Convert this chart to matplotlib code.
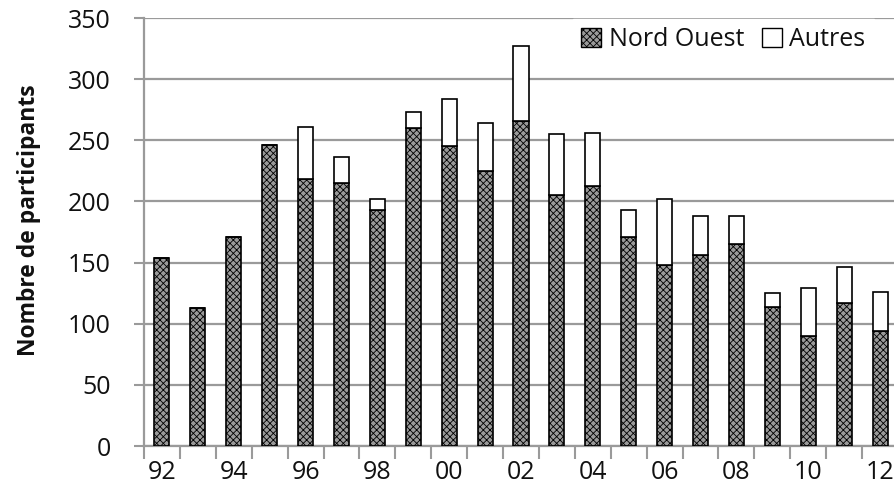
import matplotlib
matplotlib.use("Agg")
import matplotlib.pyplot as plt
import numpy as np
from matplotlib.patches import Patch

years = ["92", "93", "94", "95", "96", "97", "98", "99", "00", "01", "02",
         "03", "04", "05", "06", "07", "08", "09", "10", "11", "12"]
nord_ouest = [154, 113, 171, 246, 218, 215, 193, 260, 245, 225, 266,
              205, 213, 171, 148, 156, 165, 114, 90, 117, 94]
totals = [154, 113, 171, 246, 261, 236, 202, 273, 284, 264, 327,
          255, 256, 193, 202, 188, 188, 125, 129, 146, 126]
autres = [t - n for t, n in zip(totals, nord_ouest)]

plt.rcParams['font.family'] = ['Open Sans', 'DejaVu Sans']
plt.rcParams['hatch.linewidth'] = 0.6
plt.rcParams['hatch.color'] = '#2a2a2a'

fig = plt.figure(figsize=(8.95, 4.98), dpi=100)
ax = fig.add_axes([144/895, 52/498, 754/895, 428/498])

x = np.arange(len(years))
w = 0.42
ax.bar(x, nord_ouest, width=w, facecolor='#9a9a9a', edgecolor='black',
       linewidth=1.2, hatch='xxxxx', zorder=3)
ax.bar(x, autres, width=w, bottom=nord_ouest, facecolor='white',
       edgecolor='black', linewidth=1.2, zorder=3)

ax.set_xlim(-0.5, len(years) - 0.5)
ax.set_ylim(0, 350)
ax.set_yticks(np.arange(0, 351, 50))
ax.yaxis.grid(True, color='#9a9a9a', linewidth=1.6, zorder=0)
ax.set_axisbelow(True)

ax.set_xticks(x[::2])
ax.set_xticklabels(years[::2])
ax.set_xticks(np.arange(-0.5, len(years), 1), minor=True)
ax.tick_params(axis='x', which='major', length=0, labelsize=18, pad=10, labelcolor='#111111')
ax.tick_params(axis='x', which='minor', length=9, width=1.5, color='#9a9a9a', direction='out')
ax.tick_params(axis='y', length=7, width=1.5, color='#9a9a9a', labelsize=18, pad=17, labelcolor='#111111')

for s in ['top', 'right']:
    ax.spines[s].set_visible(False)
for s in ['left', 'bottom']:
    ax.spines[s].set_color('#9a9a9a')
    ax.spines[s].set_linewidth(1.6)

ax.set_ylabel('Nombre de participants', fontsize=16.5, fontweight='bold', color='#111111')
ax.yaxis.set_label_coords(-0.136, 0.528)

handles = [Patch(facecolor='#9a9a9a', edgecolor='black', hatch='xxxxx', linewidth=1.0),
           Patch(facecolor='white', edgecolor='black', linewidth=1.0)]
leg = ax.legend(handles, ['Nord Ouest', 'Autres'], ncol=2, loc='upper right',
                bbox_to_anchor=(0.985, 1.028), fontsize=18, frameon=True,
                handlelength=0.8, handleheight=0.8, handletextpad=0.3,
                columnspacing=0.7, borderpad=0.35, fancybox=False)
leg.get_frame().set_edgecolor('white')
leg.get_frame().set_facecolor('white')
leg.get_frame().set_alpha(1)
leg.set_zorder(5)
for t in leg.get_texts():
    t.set_color('#111111')

fig.savefig('out.png', dpi=100, facecolor='white')
